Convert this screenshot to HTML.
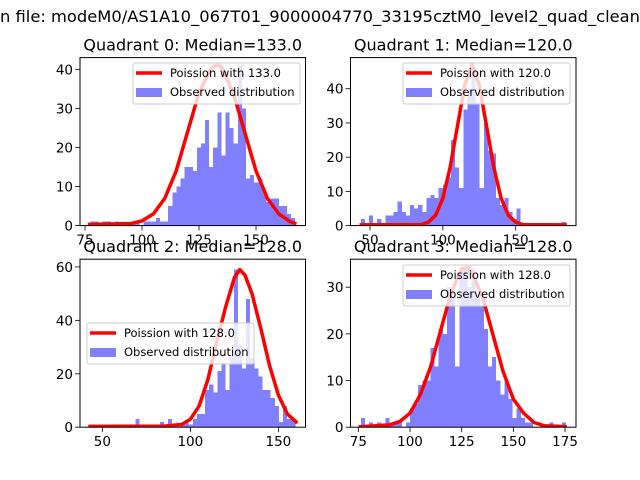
<!DOCTYPE html>
<html><head><meta charset="utf-8"><style>
html,body{margin:0;padding:0;background:#fff;}
svg{display:block;font-family:"DejaVu Sans","Liberation Sans",sans-serif;}
</style></head><body>
<svg id="fig" width="640" height="480" viewBox="0 0 640 480">
<rect width="640" height="480" fill="#fff"/>
<text x="0" y="22" font-size="16" textLength="640" lengthAdjust="spacingAndGlyphs">n file: modeM0/AS1A10_067T01_9000004770_33195cztM0_level2_quad_clean</text>
</svg>
<script>
// ---- data ----
const q0Counts=[1,1,0,1,1,0,1,0,0,0,1,1,0,1,1,1,2,1,1,5,8.5,10,12,15,15,14,20,21,27,15,20,29,18,29,25,21,41,30,12,13,11,12,9,6,7,7,5,5,3,2];
const q0Range=[77.3,167.2];
const q0CurveX=[77,95,100,105,110,115,120,125,130,133,135,140,145,150,155,160,165,167];
const q0CurveY=[0.3,0.5,1.2,3,7,14,24,34,40,41.2,40.5,34,24,14,7,3,1,0.6];
const q0XTicks=[75,100,125,150];
const q0YTicks=[0,10,20,30,40];

const q1Counts=[2,0,3,0,2,0,3,3,4,7,4,3,6,5,6,4,8,9,8,11,12,14,25,17,11,34,40,44,36,11,30,22,21,8,6,8,4,2,5,0,0,0,0,0,0,0,0,0,0,1];
const q1Range=[43.7,184.4];
const q1CurveX=[44,85,90,95,100,105,110,115,120,125,130,135,140,145,150,155,184];
const q1CurveY=[0.2,0.3,1,3,8,17,29,41,47,41,29,17,8,3,1,0.3,0.2];
const q1XTicks=[50,100,150];
const q1YTicks=[0,10,20,30,40];

const q2Counts=[1,0,0,0,0,1,0,0,0,0,0,3,1,0,0,0,0,2,0,3,0,0,1,2,1,3,5,5,14,16,13,21,24,14,27,59,31,22,48,26,22,19,14,14,11,8,2,8,3,3];
const q2Range=[43.1,159.6];
const q2CurveX=[43,85,95,100,105,110,115,120,125,128,131,135,140,145,150,155,160];
const q2CurveY=[0.3,0.4,1,3,8,18,32,45,56,59,57,50,37,23,12,5,2];
const q2XTicks=[50,100,150];
const q2YTicks=[0,20,40,60];

const q3Counts=[2,0,1,0,1,0,2,1,1,1,0,1,4,5,9,10,10,17,13,21,20,30,28,13,34,34,30,34,28,26,21,13,15,10,7,10,6,2,4,2,1,1,0,0,0,0,1,0,0,1];
const q3Range=[76.2,175.4];
const q3CurveX=[76,90,95,100,105,110,115,120,125,128,130,135,140,145,150,155,160,165,175];
const q3CurveY=[0.1,0.5,1.2,3,7,13,21,29,34,34.2,33,28,20,12,6,3,1,0.3,0.1];
const q3XTicks=[75,100,125,150,175];
const q3YTicks=[0,10,20,30];

const titles=["Quadrant 0: Median=133.0","Quadrant 1: Median=120.0","Quadrant 2: Median=128.0","Quadrant 3: Median=128.0"];
const lambdas=["133.0","120.0","128.0","128.0"];

// ---- layout ----
const NS="http://www.w3.org/2000/svg";
const svg=document.getElementById('fig');
function mk(tag,attrs,parent){const e=document.createElementNS(NS,tag);for(const k in attrs)e.setAttribute(k,attrs[k]);(parent||svg).appendChild(e);return e;}

const panels=[
 {box:[80,57.6,225.5,168],xl:[72.8,171.7],yl:43,c:q0Counts,r:q0Range,cx:q0CurveX,cy:q0CurveY,xt:q0XTicks,yt:q0YTicks,leg:[133,63]},
 {box:[350.5,57.6,225.5,168],xl:[36.6,191.4],yl:49.1,c:q1Counts,r:q1Range,cx:q1CurveX,cy:q1CurveY,xt:q1XTicks,yt:q1YTicks,leg:[403,63]},
 {box:[80,259.2,225.5,168],xl:[37.3,165.4],yl:62.9,c:q2Counts,r:q2Range,cx:q2CurveX,cy:q2CurveY,xt:q2XTicks,yt:q2YTicks,leg:[87,323]},
 {box:[350.5,259.2,225.5,168],xl:[71.2,180.3],yl:36,c:q3Counts,r:q3Range,cx:q3CurveX,cy:q3CurveY,xt:q3XTicks,yt:q3YTicks,leg:[403,265]}
];

panels.forEach((p,i)=>{
  const [L,T,W,H]=p.box;
  const g=mk('g',{});
  
  
  const X=v=>L+(v-p.xl[0])/(p.xl[1]-p.xl[0])*W;
  const Y=v=>T+H-v/p.yl*H;
  const cl=mk('clipPath',{id:'clip'+i},g);
  mk('rect',{x:L,y:T,width:W,height:H},cl);
  const plot=mk('g',{'clip-path':'url(#clip'+i+')'},g);
  const bars=mk('g',{'shape-rendering':'crispEdges'},plot);
  // bars
  const n=p.c.length, bw=(p.r[1]-p.r[0])/n;
  p.c.forEach((v,j)=>{
    if(v<=0)return;
    const x0=X(p.r[0]+j*bw), x1=X(p.r[0]+(j+1)*bw);
    const b=mk('rect',{x:x0,y:Y(v),width:x1-x0,height:Y(0)-Y(v),fill:'#8080ff'},bars);
    
    
  });
  // curve
  const pts=p.cx.map((x,k)=>X(x).toFixed(1)+','+Y(p.cy[k]).toFixed(1)).join(' ');
  const ln=mk('polyline',{points:pts,fill:'none',stroke:'#ff0000','stroke-width':3.5,'stroke-linejoin':'round','stroke-linecap':'square'},plot);
  
  
  // frame
  const fr=mk('rect',{x:L,y:T,width:W,height:H,fill:'none',stroke:'#000','stroke-width':1},g);
  
  
  // x ticks
  p.xt.forEach(t=>{
    const x=X(t);
    mk('line',{x1:x,x2:x,y1:T+H,y2:T+H+4.9,stroke:'#000','stroke-width':0.8},g);
    const tx=mk('text',{x:x,y:T+H+19,'font-size':13.5,'text-anchor':'middle'},g);
    tx.textContent=t;
    
    
  });
  p.yt.forEach(t=>{
    const y=Y(t);
    mk('line',{x1:L-4.9,x2:L,y1:y,y2:y,stroke:'#000','stroke-width':0.8},g);
    const tx=mk('text',{x:L-7,y:y+5,'font-size':13.5,'text-anchor':'end'},g);
    tx.textContent=t;
    
    
  });
  // title
  const tt=mk('text',{x:L+W/2,y:T-7,'font-size':16,'text-anchor':'middle'},g);
  tt.textContent=titles[i];
  
  
  // legend
  const [lx,ly]=p.leg;
  const lg=mk('g',{},g);
  
  
  mk('rect',{x:lx,y:ly,width:167,height:41,rx:2,fill:'#fff','fill-opacity':0.8,stroke:'#ccc','stroke-width':1},lg);
  mk('line',{x1:lx+3,x2:lx+29,y1:ly+10,y2:ly+10,stroke:'#ff0000','stroke-width':3.5},lg);
  const t1=mk('text',{x:lx+37,y:ly+14,'font-size':11.5},lg);
  t1.textContent='Poission with '+lambdas[i];
  
  
  mk('rect',{x:lx+3,y:ly+25,width:26,height:9,fill:'#8080ff'},lg);
  const t2=mk('text',{x:lx+37,y:ly+33,'font-size':11.5},lg);
  t2.textContent='Observed distribution';
  
  
});
</script>
</body></html>
